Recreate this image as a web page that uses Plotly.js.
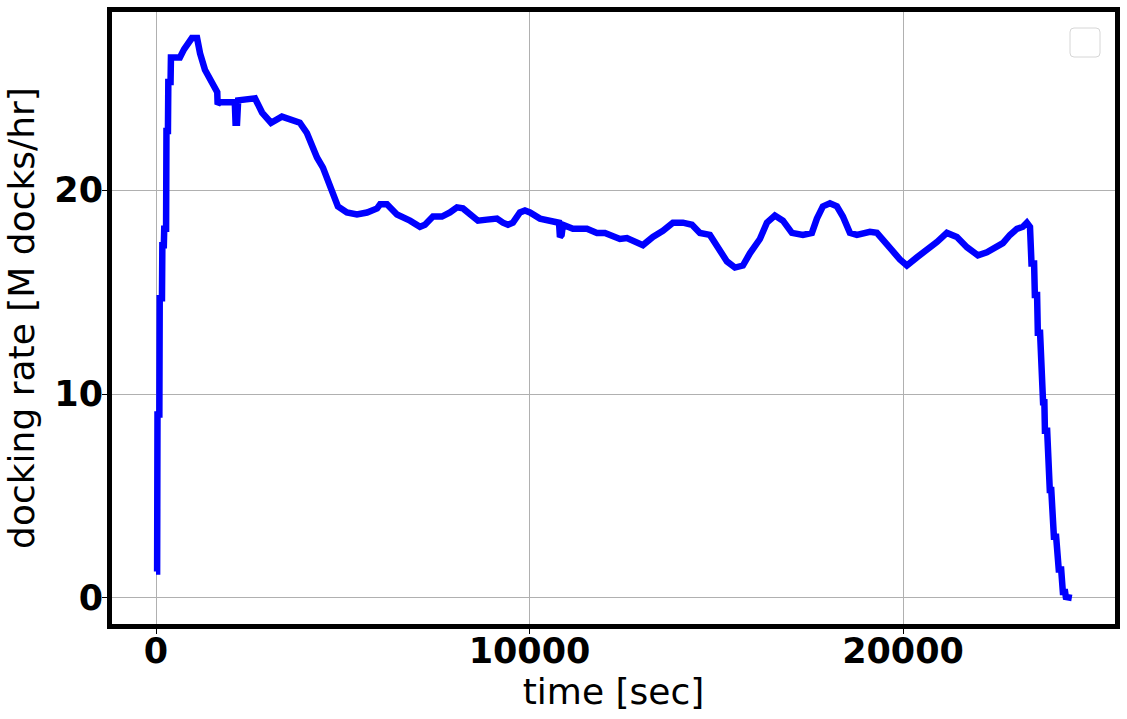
<!DOCTYPE html>
<html>
<head>
<meta charset="utf-8">
<script src="https://cdn.plot.ly/plotly-3.0.1.min.js"></script>
<style>html,body{margin:0;padding:0;background:#fff;}#chart{width:1127px;height:719px;}</style>
</head>
<body>
<div id="chart"></div>
<script>
// time [sec]
const timeSec = [
  0, 30, 40, 90, 100, 160, 170, 210, 220, 270, 280, 320, 330, 390, 400,
  640, 750, 850, 960, 1100, 1180, 1310, 1450, 1580, 1640, 1650, 1700, 1800, 2050,
  2110, 2130, 2170, 2200, 2650, 2840, 3080, 3370, 3560, 3850, 4040, 4180, 4310, 4470,
  4600, 4740, 4870, 5110, 5380, 5650, 5920, 6000, 6184, 6452, 6612, 6800, 7067, 7201,
  7415, 7656, 7870, 8058, 8218, 8406, 8620, 8861, 9129, 9289, 9423, 9557, 9744, 9878,
  10012, 10280, 10547, 10735, 10790, 10815, 10860, 10895, 11163, 11538, 11806, 12020,
  12234, 12421, 12609, 12769, 13037, 13304, 13572, 13840, 14108, 14349, 14563, 14830,
  15018, 15286, 15500, 15714, 15901, 16169, 16356, 16570, 16785, 17025, 17320, 17561,
  17695, 17855, 18043, 18230, 18391, 18578, 18766, 19114, 19301, 19515, 19703, 19917,
  20104, 20372, 20640, 20907, 21175, 21443, 21711, 22005, 22246, 22407, 22674, 22862,
  23049, 23210, 23317, 23400, 23420, 23440, 23510, 23530, 23590, 23610, 23670, 23690,
  23730, 23750, 23785, 23800, 23860, 23880, 23915, 23930, 23970, 23990, 24025, 24040,
  24100, 24120, 24155, 24170, 24235, 24250, 24270, 24280, 24340, 24360, 24520
];
// docking rate [M docks/hr]
const dockRate = [
  1.3, 1.3, 9.0, 9.0, 14.7, 14.7, 17.3, 17.3, 18.1, 18.1, 22.9, 22.9, 25.3, 25.3, 26.5,
  26.5, 26.9, 27.2, 27.45, 27.45, 26.7, 25.9, 25.4, 25.1, 24.8, 24.2, 24.3, 24.3, 24.3,
  24.3, 23.3, 23.3, 24.4, 24.5, 23.8, 23.3, 23.6, 23.5, 23.3, 22.8, 22.1, 21.6, 21.1,
  20.5, 19.85, 19.2, 18.9, 18.8, 18.9, 19.1, 19.3, 19.3, 18.8, 18.7, 18.5, 18.2, 18.3,
  18.7, 18.7, 18.9, 19.15, 19.1, 18.8, 18.5, 18.55, 18.6, 18.4, 18.3, 18.4, 18.9, 19.0,
  18.9, 18.6, 18.5, 18.4, 18.4, 17.7, 17.8, 18.3, 18.1, 18.1, 17.9, 17.9,
  17.7, 17.6, 17.65, 17.5, 17.3, 17.7, 18.0, 18.4, 18.4, 18.3, 17.9, 17.8,
  17.2, 16.5, 16.2, 16.3, 16.9, 17.6, 18.4, 18.75, 18.5, 17.9, 17.8, 17.9,
  18.6, 19.2, 19.35, 19.2, 18.7, 17.9, 17.8, 17.95, 17.9, 17.4, 17.05, 16.6,
  16.3, 16.7, 17.05, 17.45, 17.9, 17.7, 17.2, 16.8, 16.95, 17.15, 17.4, 17.8,
  18.1, 18.2, 18.4, 18.2, 17.2, 16.4, 16.4, 14.85, 14.85, 13.0, 13.0, 11.3,
  11.3, 9.6, 9.6, 8.2, 8.2, 6.6, 6.6, 5.3, 5.3, 4.2, 4.2, 3.0,
  3.0, 2.0, 2.0, 1.4, 1.4, 0.7, 0.7, 0.3, 0.3, 0.05, 0.0
];
const xTicks = [0, 10000, 20000];
const xTickText = ['0', '10000', '20000'];
const yTicks = [0, 10, 20];
const yTickText = ['0', '10', '20'];

const tickFont = {family: 'DejaVu Sans', size: 35, weight: 'bold', color: '#000'};
const titleFont = {family: 'DejaVu Sans', size: 36, color: '#000'};

const trace = {
  x: timeSec, y: dockRate, type: 'scatter', mode: 'lines',
  line: {color: '#0000ff', width: 6.5, shape: 'linear'},
  showlegend: false, hoverinfo: 'skip'
};

const layout = {
  width: 1127, height: 719,
  margin: {l: 112, r: 12, t: 12, b: 95, pad: 0},
  paper_bgcolor: '#fff', plot_bgcolor: '#fff',
  showlegend: false,
  xaxis: {
    range: [-1178, 25676],
    tickvals: xTicks, ticktext: xTickText,
    showgrid: true, gridcolor: '#b0b0b0', gridwidth: 1,
    zeroline: false,
    showline: true, linecolor: '#000', linewidth: 5, mirror: true,
    ticks: 'outside', ticklen: 5, tickwidth: 1, tickcolor: '#000',
    tickfont: tickFont, ticklabelstandoff: -13,
    title: {text: 'time [sec]', font: titleFont, standoff: 10}
  },
  yaxis: {
    range: [-1.275, 28.73],
    tickvals: yTicks, ticktext: yTickText,
    showgrid: true, gridcolor: '#b0b0b0', gridwidth: 1,
    zeroline: false,
    showline: true, linecolor: '#000', linewidth: 5, mirror: true,
    ticks: 'outside', ticklen: 5, tickwidth: 1, tickcolor: '#000',
    tickfont: tickFont, ticklabelstandoff: -8,
    title: {text: 'docking rate [M docks/hr]', font: titleFont, standoff: 10}
  },
  shapes: [{
    type: 'path', xref: 'paper', yref: 'paper',
    xsizemode: 'pixel', ysizemode: 'pixel', xanchor: 1, yanchor: 1,
    path: 'M -41,-16 L -19,-16 Q -15,-16 -15,-20 L -15,-41 Q -15,-45 -19,-45 L -41,-45 Q -45,-45 -45,-41 L -45,-20 Q -45,-16 -41,-16 Z',
    line: {color: '#d6d6d6', width: 1}, fillcolor: 'rgba(255,255,255,0.8)'
  }]
};

Plotly.newPlot('chart', [trace], layout, {staticPlot: true, displayModeBar: false});
</script>
</body>
</html>
